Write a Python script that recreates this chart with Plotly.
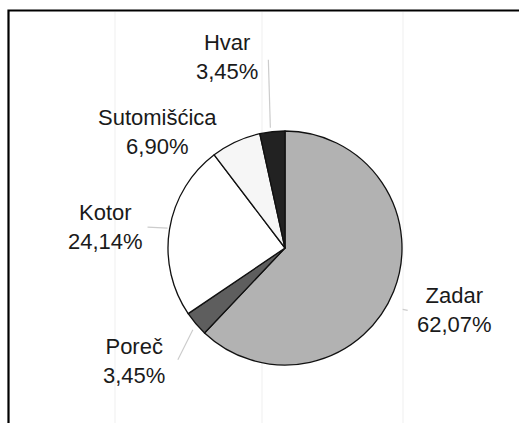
import math
import plotly.graph_objects as go

# ---- data ----
cities = ["Zadar", "Poreč", "Kotor", "Sutomišćica", "Hvar"]
counts = [18, 1, 7, 2, 1]
colors = ["#b2b2b2", "#5e5e5e", "#ffffff", "#f6f6f6", "#222222"]

W, H = 519, 423
CX, CY, R = 285, 248, 117  # pie centre / radius in pixels (from top-left)

# label centre offsets (pixels from pie centre) and leader-line offsets
label_off = [(169, 62), (-151, 113), (-180, -21), (-128, -116), (-58, -191)]
leader = [((9, 18), (14, 19)), ((-3, 6), (-18, 36)), ((-2, -1), (-22, -2)),
          None, ((-2, -4), (-4, -72))]

total = sum(counts)
pcts = [c / total * 100 for c in counts]

fig = go.Figure()
fig.add_trace(go.Pie(
    labels=cities, values=counts, sort=False, direction="clockwise", rotation=0,
    marker=dict(colors=colors, line=dict(color="#111111", width=1.3)),
    textinfo="none", hoverinfo="label+percent", showlegend=False,
    domain=dict(x=[(CX - R) / W, (CX + R) / W],
                y=[(H - CY - R) / H, (H - CY + R) / H]),
))

def px(x):
    return x / W

def py(y):
    return (H - y) / H

shapes = []
# frame
shapes.append(dict(type="rect", xref="paper", yref="paper",
                   x0=px(8.5), x1=px(540), y0=py(10.5), y1=py(440),
                   line=dict(color="#000000", width=2.2), layer="above"))
# faint scan lines
for gx in [115, 262, 403]:
    shapes.append(dict(type="line", xref="paper", yref="paper",
                       x0=px(gx), x1=px(gx), y0=py(12), y1=py(423),
                       line=dict(color="#efefef", width=1), layer="below"))

annotations = []
cum = 0.0
for i, (name, p) in enumerate(zip(cities, pcts)):
    mid = (cum + p / 2) / 100 * 2 * math.pi
    cum += p
    ex = CX + R * math.sin(mid)
    ey = CY - R * math.cos(mid)
    ox, oy = label_off[i]
    txt = f"{name}<br>{p:.2f}%".replace(".", ",")
    annotations.append(dict(x=px(CX + ox), y=py(CY + oy), xref="paper", yref="paper",
                            xanchor="center", yanchor="middle",
                            text=txt, showarrow=False, align="center",
                            font=dict(family="Liberation Sans, Arial, sans-serif",
                                      size=22, color="#1a1a1a")))
    if leader[i] is not None:
        (a1, b1), (a2, b2) = leader[i]
        shapes.append(dict(type="line", xref="paper", yref="paper",
                           x0=px(ex + a1), y0=py(ey + b1), x1=px(ex + a2), y1=py(ey + b2),
                           line=dict(color="#cccccc", width=1.2)))

fig.update_layout(width=W, height=H, margin=dict(l=0, r=0, t=0, b=0),
                  paper_bgcolor="#ffffff", plot_bgcolor="#ffffff",
                  shapes=shapes, annotations=annotations)
fig.write_html("out.html", config={"displayModeBar": False},
               post_script="document.body.style.margin='0';document.body.style.overflow='hidden';")
